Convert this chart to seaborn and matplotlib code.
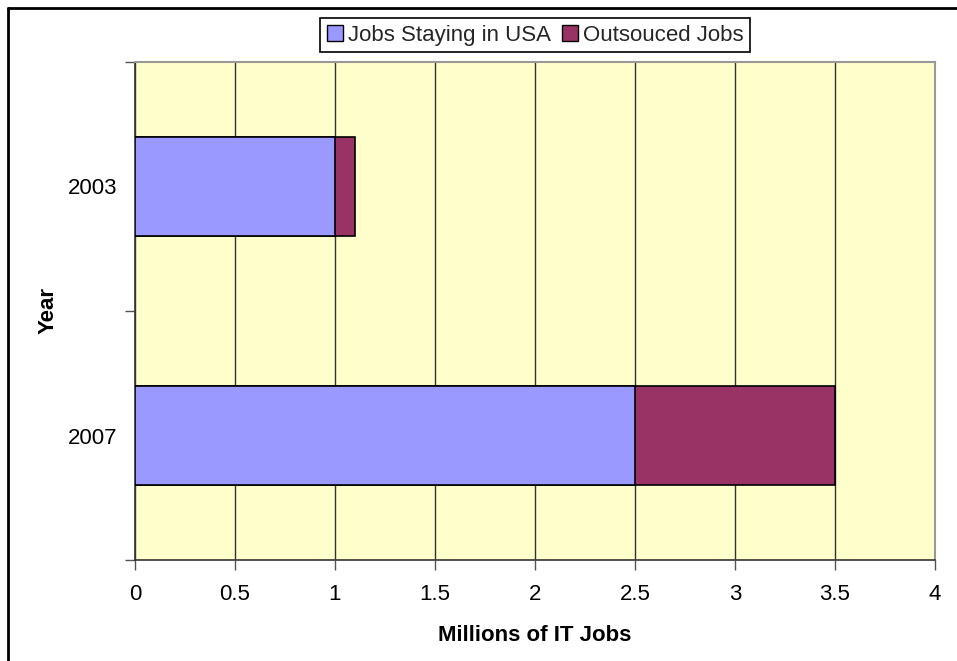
import matplotlib
matplotlib.use('Agg')
import matplotlib.pyplot as plt
from matplotlib.patches import Patch
from matplotlib.lines import Line2D
import seaborn as sns
import pandas as pd

# Dados do gráfico (milhões de empregos de TI)
anos = ['2003', '2007']
empregos_eua = [1.0, 2.5]
empregos_terceirizados = [0.1, 1.0]
rotulos_series = ['Jobs Staying in USA', 'Outsouced Jobs']

cor_eua = '#9999FF'
cor_terc = '#993366'
cor_fundo = '#FFFFCC'
tam = 16

sns.set_theme(style='white')
plt.rcParams['font.family'] = ['Liberation Sans', 'DejaVu Sans']

df = pd.DataFrame({'Ano': anos, 'EUA': empregos_eua, 'Terc': empregos_terceirizados})
df['Total'] = df['EUA'] + df['Terc']

fig = plt.figure(figsize=(9.57, 6.61), dpi=100)
ax = fig.add_axes([135 / 957, 101 / 661, 800 / 957, 498 / 661])
ax.set_facecolor(cor_fundo)

# Barras empilhadas: total por trás, parte nos EUA na frente
sns.barplot(data=df, x='Total', y='Ano', orient='h', color=cor_terc,
            saturation=1, width=0.4, edgecolor='black', linewidth=1.2, ax=ax, zorder=3)
sns.barplot(data=df, x='EUA', y='Ano', orient='h', color=cor_eua,
            saturation=1, width=0.4, edgecolor='black', linewidth=1.2, ax=ax, zorder=4)

ax.set_xlim(0, 4)
ax.set_ylim(1.5, -0.5)
ax.set_xticks([i * 0.5 for i in range(9)])
ax.set_xticklabels(['0', '0.5', '1', '1.5', '2', '2.5', '3', '3.5', '4'], fontsize=tam)
ax.set_yticks([0, 1])
ax.set_yticklabels(anos, fontsize=tam)
ax.set_yticks([-0.5, 0.5, 1.5], minor=True)
ax.tick_params(axis='y', which='major', length=0, pad=13)
ax.tick_params(axis='y', which='minor', length=7, width=1, color='#555555', direction='out', left=True)
ax.tick_params(axis='x', which='major', length=7, width=1, color='#555555', direction='out',
               bottom=True, pad=10, labelcolor='black')
ax.tick_params(axis='y', labelcolor='black')

ax.grid(axis='x', color='#333333', linewidth=1, zorder=1)
ax.set_axisbelow(True)

for lado in ['top', 'right']:
    ax.spines[lado].set_color('#999999')
    ax.spines[lado].set_linewidth(1.5)
for lado in ['left', 'bottom']:
    ax.spines[lado].set_color('#333333')
    ax.spines[lado].set_linewidth(1.2)

ax.set_xlabel('Millions of IT Jobs', fontsize=tam, fontweight='bold', labelpad=15, color='black')
ax.set_ylabel('Year', fontsize=tam, fontweight='bold', color='black')
ax.yaxis.set_label_coords(-0.095, 0.5)

handles = [Patch(facecolor=cor_eua, edgecolor='black'),
           Patch(facecolor=cor_terc, edgecolor='black')]
leg = fig.legend(handles, rotulos_series, loc='upper center', bbox_to_anchor=(535 / 957, 1 - 18 / 661),
                 ncol=2, fontsize=tam, frameon=True, fancybox=False, framealpha=1,
                 edgecolor='black', handlelength=0.75, handleheight=0.75, handletextpad=0.2,
                 columnspacing=0.5, borderpad=0.3, borderaxespad=0)
leg.get_frame().set_linewidth(1.2)

# Borda externa do gráfico (apenas topo e esquerda visíveis no recorte)
fig.add_artist(Line2D([8 / 957, 1], [1 - 8 / 661, 1 - 8 / 661], color='black', linewidth=2))
fig.add_artist(Line2D([8 / 957, 8 / 957], [0, 1 - 8 / 661], color='black', linewidth=2))

fig.savefig('out.png', dpi=100, facecolor='white')
